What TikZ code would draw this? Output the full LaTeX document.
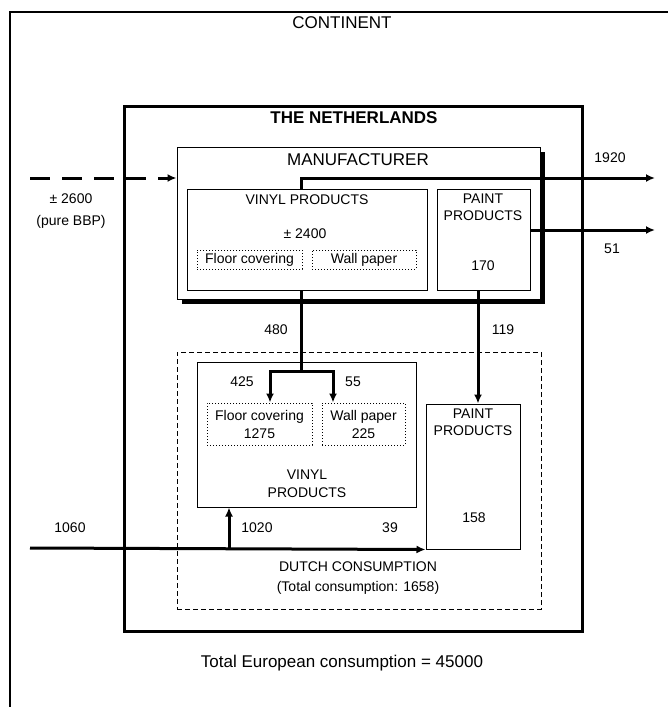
\documentclass[tikz,border=0pt]{standalone}
\usepackage{fontspec}
\setmainfont{Liberation Sans}
\usetikzlibrary{arrows.meta,fit}
\begin{document}
\begin{tikzpicture}[x=0.5pt,y=-0.5pt,>={Latex[length=4.5pt,width=4pt]},
  every node/.style={font=\fontsize{7}{9}\selectfont,inner sep=0pt,align=center},
  big/.style={font=\fontsize{8.5}{10}\selectfont},
  box/.style={draw,line width=0.5pt,fill=white,inner sep=0pt},
  dotbox/.style={draw,line width=0.5pt,dash pattern=on 0.6pt off 0.9pt},
  flow/.style={line width=1.5pt,->}]
\useasboundingbox (0,0) rectangle (668,707);
% continent (only top and left edge in view)
\draw[line width=0.6pt] (10,707) -- (10,12) -- (668,12);
\node[big] (continent) at (342,23) {CONTINENT};
\node[big] (europe) at (342,663) {Total European consumption = 45000};
% the netherlands
\node[draw,line width=1.5pt,fit={(124,106) (582,631)}] (nl) {};
\node[big] (nltxt) at (354,118) {\bfseries THE NETHERLANDS};
% manufacturer with shadow
\node[fill=black,fit={(182,152) (545,304)}] (mshadow) {};
\node[box,fit={(177,147) (540,299)}] (manuf) {};
\node[big] (manuftxt) at (358,160) {MANUFACTURER};
\node[box,fit={(187,189) (427,290)}] (vinylM) {};
\node (vinylMtxt) at (307,200) {VINYL PRODUCTS};
\node (vinylMqty) at (305,234) {± 2400};
\node[dotbox,minimum width=52.5pt,minimum height=9.5pt] (floorM) at (249.5,259.5) {Floor covering};
\node[dotbox,minimum width=52pt,minimum height=9.5pt] (wallM) at (364,259.5) {Wall paper};
\node[box,fit={(437,189) (530,290)}] (paintM) {};
\node[font=\fontsize{7}{8.5}\selectfont] (paintMtxt) at (483,207.5) {PAINT\\PRODUCTS};
\node (paintMqty) at (483,266) {170};
% dutch consumption
\node[draw,line width=0.5pt,dash pattern=on 2.5pt off 1.5pt,fit={(177,352) (541,609)}] (dutch) {};
\node[font=\fontsize{7}{10}\selectfont] (dutchtxt) at (358,578) {DUTCH CONSUMPTION\\(Total consumption: 1658)};
\node[box,fit={(197,362) (416,507)}] (vinylD) {};
\node (vinylDtxt) at (307,484) {VINYL\\PRODUCTS};
\node[dotbox,minimum width=52.5pt,minimum height=21pt] (floorD) at (259.5,424) {Floor covering\\1275};
\node[dotbox,minimum width=41.5pt,minimum height=21pt] (wallD) at (363.5,424) {Wall paper\\225};
\node[box,fit={(426,404) (520,549)}] (paintD) {};
\node[font=\fontsize{7}{8.5}\selectfont] (paintDtxt) at (473,422.5) {PAINT\\PRODUCTS};
\node (paintDqty) at (474,518) {158};
% flow labels
\node[font=\fontsize{7}{11}\selectfont] (bbptxt) at (71,211) {± 2600\\(pure BBP)};
\node (l1920) at (610,158) {1920};
\node (l51) at (612,249) {51};
\node (l480) at (276,330) {480};
\node (l119) at (503,330) {119};
\node (l425) at (242,382) {425};
\node (l55) at (353,382) {55};
\node (l1060) at (70,528) {1060};
\node (l1020) at (257,528) {1020};
\node (l39) at (390,528) {39};
% flows
\coordinate (bbp) at (30,178);
\coordinate (out1920) at (655,178);
\coordinate (out51) at (655,230);
\coordinate (tap) at (301,371);
\coordinate (lft) at (270,0);
\coordinate (rgt) at (333,0);
\coordinate (pcol) at (478,0);
\coordinate (imp) at (30,548);
\coordinate (branch) at (229,548);
\draw[flow,dash pattern=on 10pt off 6pt] (bbp) -- (bbp -| manuf.west);
\draw[flow] (vinylM.north -| tap) |- (out1920);
\draw[flow] (out51 -| paintM.east) -- (out51);
\draw[line width=1.5pt] (vinylM.south -| tap) -- (tap);
\draw[flow] (tap) -| (floorD.north -| lft);
\draw[flow] (tap) -| (wallD.north -| rgt);
\draw[flow] (paintM.south -| pcol) -- (paintD.north -| pcol);
\draw[flow] (imp) -- (paintD.south west);
\draw[flow] (branch) -- (vinylD.south -| branch);
\end{tikzpicture}
\end{document}
